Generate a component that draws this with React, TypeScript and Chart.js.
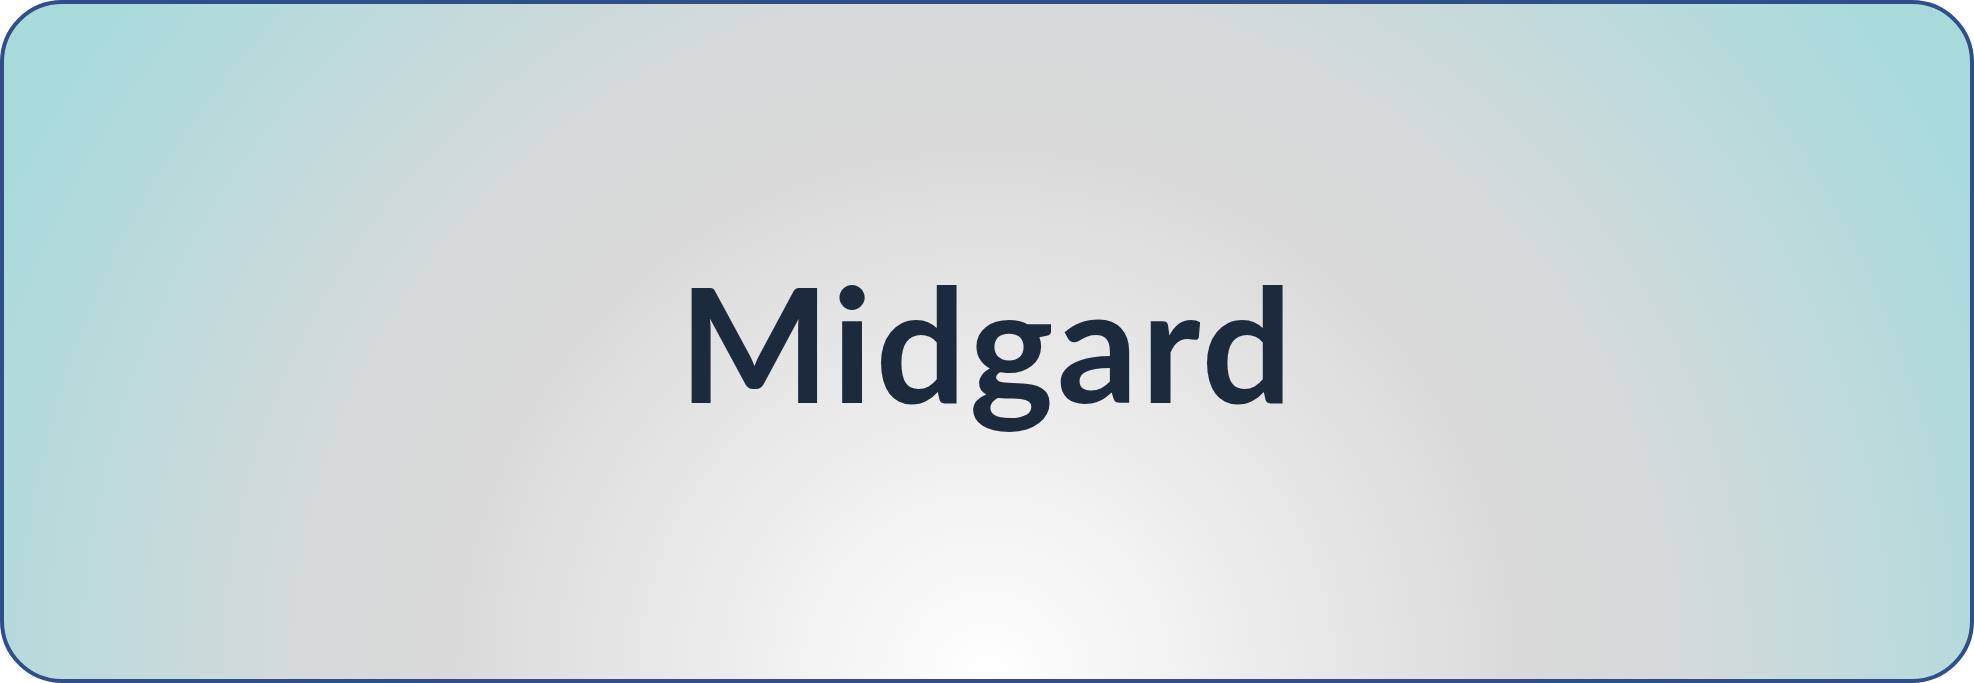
import React, { useEffect, useRef } from 'react';
import { Chart, registerables } from 'chart.js';

Chart.register(...registerables);

// Banner has no data marks, only a title
const titleText = 'Midgard';
const categories: string[] = [];
const values: number[] = [];

const App: React.FC = () => {
  const canvasRef = useRef<HTMLCanvasElement>(null);
  const chartRef = useRef<Chart | null>(null);

  useEffect(() => {
    document.body.style.margin = '0';
    if (canvasRef.current) {
      chartRef.current = new Chart(canvasRef.current, {
        type: 'bar',
        data: { labels: categories, datasets: [{ data: values }] },
        options: {
          animation: false,
          responsive: true,
          maintainAspectRatio: false,
          plugins: { legend: { display: false }, tooltip: { enabled: false } },
          scales: { x: { display: false }, y: { display: false } },
        },
      });
    }
    return () => {
      chartRef.current?.destroy();
    };
  }, []);

  return (
    <div
      style={{
        position: 'relative',
        width: 1974,
        height: 683,
        boxSizing: 'border-box',
        border: '4px solid #2f4f8a',
        borderRadius: 62,
        overflow: 'hidden',
        background:
          'radial-gradient(ellipse 1100px 1100px at 50% 100%, #ffffff 0%, #d9d9d9 50%, #d6dadb 62%, #a8dadc 100%)',
      }}
    >
      <canvas ref={canvasRef} style={{ position: 'absolute', inset: 0 }} />
      <div
        style={{
          position: 'absolute',
          left: 0,
          right: 0,
          top: 257,
          textAlign: 'center',
          fontFamily: 'Lato, sans-serif',
          fontWeight: 700,
          fontSize: 160,
          lineHeight: 1,
          letterSpacing: 3,
          color: '#1b2a3d',
        }}
      >
        {titleText}
      </div>
    </div>
  );
};

export default App;
